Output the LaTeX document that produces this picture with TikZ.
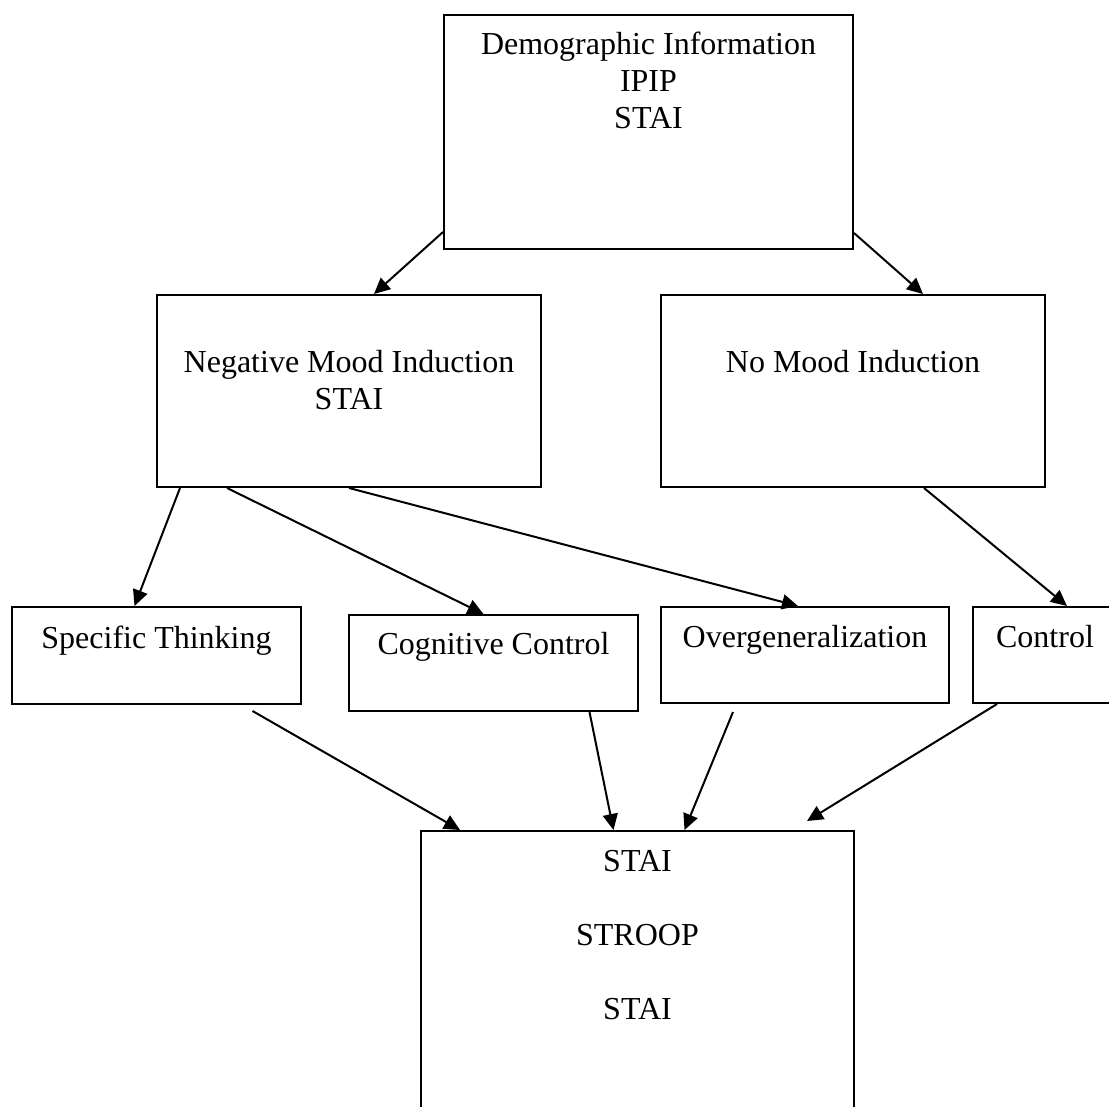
\documentclass[tikz,border=0pt]{standalone}
\usepackage{fontspec}
\setmainfont{Liberation Serif}
\usetikzlibrary{arrows.meta,calc}
\tikzset{
  box/.style={draw, line width=0.8pt, inner sep=0pt, anchor=north west, align=center,
    font=\fontsize{12.8pt}{14.8pt}\selectfont},
  arr/.style={line width=0.8pt, -{Triangle[length=6.4pt,width=6pt]}}
}
\begin{document}
\begin{tikzpicture}[x=0.4pt, y=-0.4pt]
    \useasboundingbox (0,0) rectangle (1109,1107);
    \node[box, minimum width=163.6pt, text height=45.2pt, text depth=48.4pt] (demo) at (443,14)
      {Demographic Information\\IPIP\\STAI};
    \node[box, minimum width=153.6pt, text height=45.6pt, text depth=31.2pt] (neg) at (156,294)
      {Negative Mood Induction\\STAI};
    \node[box, minimum width=153.6pt, text height=30.8pt, text depth=46pt] (nomood) at (660,294)
      {No Mood Induction};
    \node[box, minimum width=115.6pt, text height=16.4pt, text depth=22.4pt] (spec) at (11,606)
      {Specific Thinking};
    \node[box, minimum width=115.6pt, text height=15.6pt, text depth=22.8pt] (cogn) at (348,614)
      {Cognitive Control};
    \node[box, minimum width=115.2pt, text height=16pt, text depth=22.4pt] (overg) at (660,606)
      {Overgeneralization};
    \node[box, minimum width=57.6pt, text height=16pt, text depth=22.4pt] (ctrl) at (972,606)
      {Control};
    \node[box, minimum width=173.2pt, text height=75.2pt, text depth=44.8pt] (stai) at (420,830)
      {STAI\\[14.8pt]STROOP\\[14.8pt]STAI};

    \draw[arr] ($(demo.south west)+(0,-18)$) -- ($(neg.north)+(25,0)$);
    \draw[arr] ($(demo.south east)+(0,-17)$) -- ($(nomood.north)+(70,0)$);
    \draw[arr] ($(neg.south west)+(24,0)$) -- ($(spec.north)+(-22,0)$);
    \draw[arr] ($(neg.south west)+(71,0)$) -- ($(cogn.north)+(-10,0)$);
    \draw[arr] (neg.south) -- ($(overg.north)+(-7,0)$);
    \draw[arr] ($(nomood.south)+(71,0)$) -- ($(ctrl.north)+(22,0)$);
    \draw[arr] ($(spec.south)+(96,6)$) -- ($(stai.north west)+(40,0)$);
    \draw[arr] ($(cogn.south)+(96,0)$) -- ($(stai.north)+(-24,0)$);
    \draw[arr] ($(overg.south)+(-72,8)$) -- ($(stai.north)+(47,0)$);
    \draw[arr] ($(ctrl.south west)+(25,0)$) -- ($(stai.north east)+(-48,-9)$);
\end{tikzpicture}
\end{document}
